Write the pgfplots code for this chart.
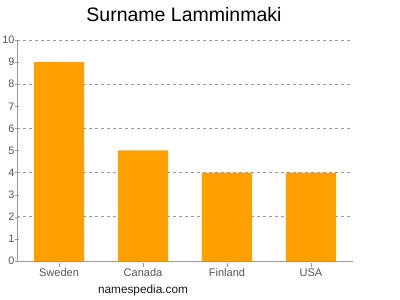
\documentclass[border=0pt]{standalone}
\usepackage{pgfplots}
\pgfplotsset{compat=1.18}
\usepackage{fontspec}
\setmainfont{Liberation Sans}
\definecolor{barorange}{HTML}{FFA000}
\definecolor{axgray}{HTML}{999999}
\definecolor{txtgray}{HTML}{555555}
\begin{document}
\begin{tikzpicture}[x=1pt,y=1pt]
\useasboundingbox (0,0) rectangle (400,300);
\node[font=\fontsize{19.5}{22}\selectfont] at (184,285) {Surname Lamminmaki};
\node[font=\fontsize{11.8}{14}\selectfont, text=black!90] at (143,10) {namespedia.com};
\begin{axis}[
  at={(17pt,39pt)}, anchor=south west,
  scale only axis, width=336pt, height=221pt,
  xmin=-0.5, xmax=3.5, ymin=0, ymax=10,
  axis x line=bottom, axis y line=left,
  axis line style={axgray, -},
  xtick=data, xticklabels={Sweden,Canada,Finland,USA},
  ytick={0,1,...,10},
  tick style={axgray},
  major tick length=4pt,
  xtick style={axgray, yshift=-2pt},
  yticklabel style={font=\fontsize{10.8}{12}\selectfont, text=txtgray, xshift=3pt},
  xticklabel style={font=\fontsize{11}{13}\selectfont, text=txtgray, yshift=0pt},
  /pgf/number format/assume math mode=true,
  extra y ticks={2,4,6,8,10},
  extra y tick labels={},
  extra y tick style={grid=major, major grid style={dashed, axgray, line width=0.6pt}, major tick length=0pt},
  ybar, bar width=50pt,
  enlarge y limits=false,
]
\addplot[fill=barorange, draw=none] coordinates {(0,9) (1,5) (2,4) (3,4)};
\end{axis}
\end{tikzpicture}
\end{document}
